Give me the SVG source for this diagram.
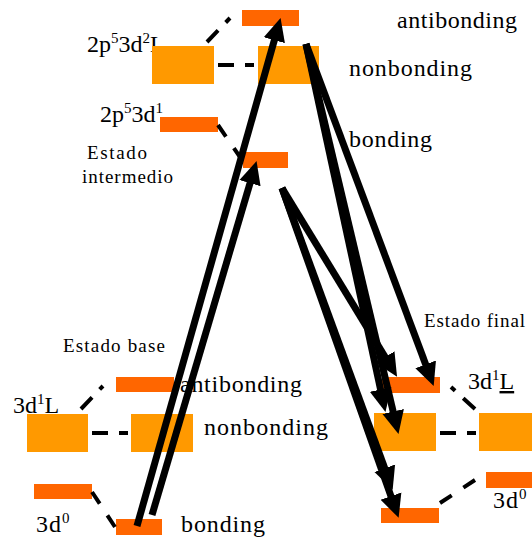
<svg xmlns="http://www.w3.org/2000/svg" width="532" height="540" viewBox="0 0 532 540">
<text x="87" y="52" font-family="Liberation Serif" font-size="24">2p<tspan font-size="15" dy="-9">5</tspan><tspan dy="9">3d</tspan><tspan font-size="15" dy="-9">2</tspan><tspan dy="9">L</tspan></text>
<text x="100" y="122" font-family="Liberation Serif" font-size="24">2p<tspan font-size="15" dy="-9">5</tspan><tspan dy="9">3d</tspan><tspan font-size="15" dy="-9">1</tspan></text>
<text x="87" y="159" font-family="Liberation Serif" font-size="19" textLength="60">Estado</text>
<text x="82" y="183" font-family="Liberation Serif" font-size="19" textLength="91">intermedio</text>
<text x="397" y="28" font-family="Liberation Serif" font-size="24" textLength="120">antibonding</text>
<text x="349" y="76" font-family="Liberation Serif" font-size="24" textLength="123">nonbonding</text>
<text x="349" y="147" font-family="Liberation Serif" font-size="24" textLength="83">bonding</text>
<text x="63" y="352" font-family="Liberation Serif" font-size="19" textLength="102">Estado base</text>
<text x="180" y="392" font-family="Liberation Serif" font-size="24" textLength="122">antibonding</text>
<text x="13" y="413" font-family="Liberation Serif" font-size="24">3d<tspan font-size="15" dy="-9">1</tspan><tspan dy="9">L</tspan></text>
<text x="204" y="435" font-family="Liberation Serif" font-size="24" textLength="124">nonbonding</text>
<text x="36" y="532" font-family="Liberation Serif" font-size="24" letter-spacing="1">3d<tspan font-size="15" dy="-9">0</tspan></text>
<text x="181" y="532" font-family="Liberation Serif" font-size="24" textLength="84">bonding</text>
<text x="424" y="327" font-family="Liberation Serif" font-size="19" textLength="101">Estado final</text>
<text x="468" y="389" font-family="Liberation Serif" font-size="24">3d<tspan font-size="15" dy="-9">1</tspan><tspan dy="9" text-decoration="underline">L</tspan></text>
<text x="493" y="508" font-family="Liberation Serif" font-size="24" letter-spacing="1">3d<tspan font-size="15" dy="-9">0</tspan></text>
<defs>
<marker id="ah" markerUnits="userSpaceOnUse" viewBox="0 -12 24 24" markerWidth="24" markerHeight="24" refX="1" refY="0" orient="auto">
<path d="M0,-11 L23,0 L0,11 z" fill="#000"/>
</marker>
</defs>
<g id="levels-bonding-antibonding" fill="#FF6600">
<g id="node-top-anti"><rect x="242" y="10" width="57" height="16"/></g>
<g id="node-2p53d1"><rect x="160" y="117" width="58" height="15"/></g>
<g id="node-intermediate"><rect x="243" y="152" width="45" height="16"/></g>
<g id="node-base-anti"><rect x="116" y="377" width="58" height="15"/></g>
<g id="node-base-3d0"><rect x="34" y="484" width="58" height="15"/></g>
<g id="node-base-bond"><rect x="116" y="519" width="46" height="16"/></g>
<g id="node-final-anti"><rect x="382" y="377" width="58" height="16"/></g>
<g id="node-final-3d0"><rect x="486" y="472" width="50" height="16"/></g>
<g id="node-final-bond"><rect x="381" y="508" width="58" height="15"/></g>
</g>
<g id="levels-nonbonding" fill="#FF9900">
<g id="node-top-nb-left"><rect x="152" y="46" width="62" height="38"/></g>
<g id="node-top-nb-right"><rect x="258" y="46" width="61" height="38"/></g>
<g id="node-base-nb-left"><rect x="27" y="414" width="61" height="38"/></g>
<g id="node-base-nb-right"><rect x="131" y="414" width="62" height="38"/></g>
<g id="node-final-nb-left"><rect x="374" y="413" width="62" height="38"/></g>
<g id="node-final-nb-right"><rect x="479" y="413" width="55" height="38"/></g>
</g>
<g id="connectors">
<g stroke="#000" stroke-width="4" fill="none">
<g stroke-dasharray="16 11">
<line x1="207" y1="42" x2="230" y2="18"/>
<line x1="218" y1="65" x2="254" y2="65"/>
<line x1="81" y1="409" x2="103" y2="386"/>
<line x1="92" y1="433" x2="128" y2="433"/>
<line x1="475" y1="409" x2="451" y2="387"/>
<line x1="440" y1="433" x2="476" y2="433"/>
</g>
<g stroke-dasharray="14 14">
<line x1="218" y1="125" x2="240" y2="157"/>
<line x1="92" y1="492" x2="115" y2="527"/>
<line x1="440" y1="503" x2="475" y2="480"/>
</g>
</g>
<g stroke="#000" stroke-width="7" fill="none" marker-end="url(#ah)">
<line x1="137" y1="526" x2="274.6" y2="39.2"/>
<line x1="152" y1="515" x2="250.3" y2="182.2"/>
<line x1="306" y1="44" x2="426" y2="365.3"/>
<line x1="306" y1="44" x2="380.8" y2="390.4"/>
<line x1="306" y1="44" x2="393.4" y2="412.5"/>
<line x1="282" y1="188" x2="385.6" y2="357.9"/>
<line x1="282" y1="188" x2="385.1" y2="469.2"/>
<line x1="282" y1="188" x2="391.3" y2="497.1"/>
</g>
</g>
</svg>
